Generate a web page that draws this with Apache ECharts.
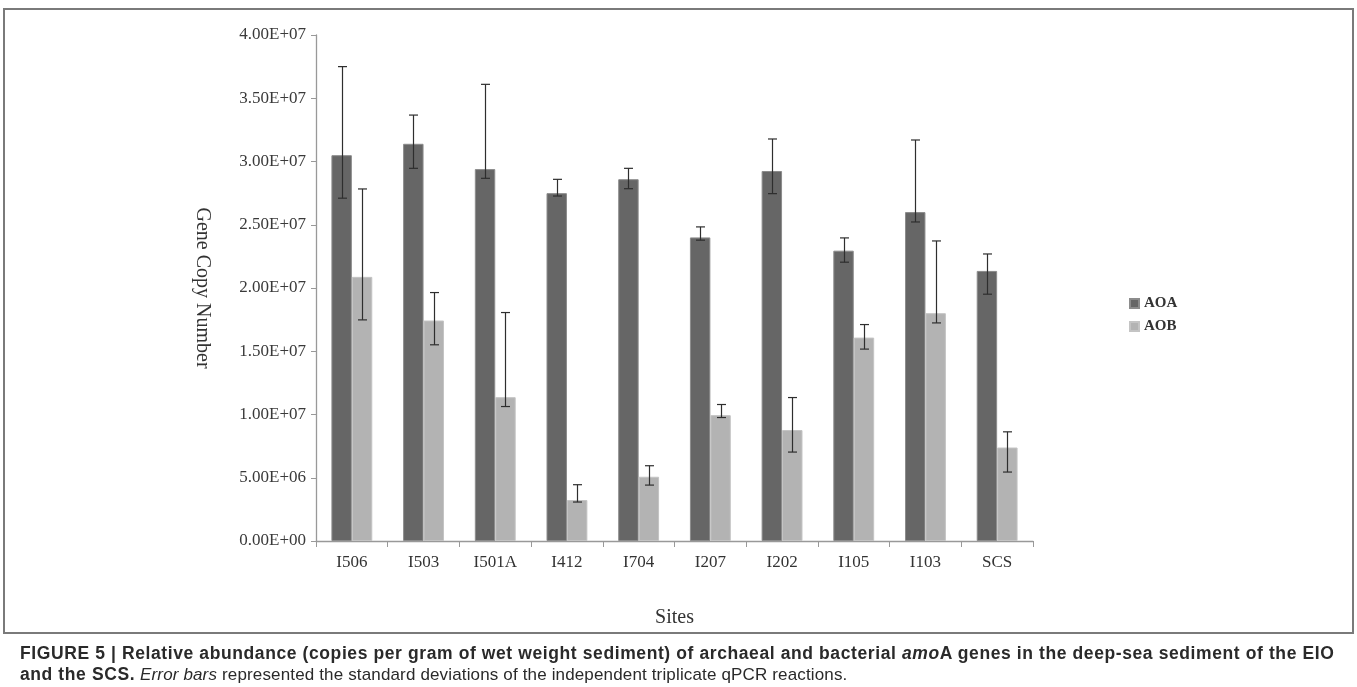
<!DOCTYPE html>
<html>
<head>
<meta charset="utf-8">
<script src="https://cdn.jsdelivr.net/npm/echarts@6/dist/echarts.min.js"></script>
<style>
  html, body { margin:0; padding:0; background:#fff; }
  #wrap { position:relative; width:1357px; height:687px; overflow:hidden; }
  #chart { position:absolute; left:0; top:0; width:1357px; height:687px; }
  #box { position:absolute; left:3px; top:8px; width:1347px; height:622px; border:2px solid #7a7a7a; pointer-events:none; }
  #caption { position:absolute; left:20px; top:643px; width:1335px; font-family:"Liberation Sans", Arial, sans-serif; font-size:17px; line-height:20px; color:#2a2a2a; white-space:nowrap; letter-spacing:0.15px; }
  #caption b { font-weight:bold; font-size:17.5px; letter-spacing:0.6px; }
</style>
</head>
<body>
<div id="wrap">
  <div id="chart"></div>
  <div id="box"></div>
  <div id="caption">
    <div><b>FIGURE 5 | Relative abundance (copies per gram of wet weight sediment) of archaeal and bacterial <i>amo</i>A genes in the deep-sea sediment of the EIO</b></div>
    <div><b>and the SCS.</b> <i>Error bars</i> represented the standard deviations of the independent triplicate qPCR reactions.</div>
  </div>
</div>
<script>
var sites   = ['I506','I503','I501A','I412','I704','I207','I202','I105','I103','SCS'];
var aoa     = [3.05e7, 3.14e7, 2.94e7, 2.75e7, 2.86e7, 2.40e7, 2.925e7, 2.295e7, 2.60e7, 2.135e7];
var aoaLow  = [2.71e7, 2.946e7, 2.867e7, 2.727e7, 2.785e7, 2.378e7, 2.746e7, 2.204e7, 2.522e7, 1.951e7];
var aoaHigh = [3.75e7, 3.367e7, 3.61e7, 2.859e7, 2.946e7, 2.483e7, 3.178e7, 2.396e7, 3.17e7, 2.269e7];
var aob     = [2.088e7, 1.743e7, 1.137e7, 0.324e7, 0.508e7, 0.995e7, 0.877e7, 1.608e7, 1.801e7, 0.739e7];
var aobLow  = [1.748e7, 1.551e7, 1.063e7, 0.308e7, 0.442e7, 0.976e7, 0.703e7, 1.517e7, 1.724e7, 0.545e7];
var aobHigh = [2.783e7, 1.964e7, 1.806e7, 0.445e7, 0.595e7, 1.079e7, 1.134e7, 1.711e7, 2.372e7, 0.863e7];
var yMin = 0, yMax = 4e7, yStep = 5e6;

var CAT_GAP = 0.43;
var serif = '"Liberation Serif", "Times New Roman", serif';

function sci(v) {
  if (v === 0) return '0.00E+00';
  var e = Math.floor(Math.log10(Math.abs(v)) + 1e-9);
  var m = v / Math.pow(10, e);
  var es = (e < 10 ? '0' : '') + e;
  return m.toFixed(2) + 'E+' + es;
}

function errData(lo, hi) {
  return lo.map(function (l, i) { return [i, l, hi[i]]; });
}

function errSeries(name, lo, hi, sign) {
  return {
    type: 'custom',
    name: name + ' err',
    data: errData(lo, hi),
    encode: { x: 0, y: [1, 2] },
    z: 10,
    silent: true,
    renderItem: function (params, api) {
      var idx = api.value(0);
      var pLo = api.coord([idx, api.value(1)]);
      var pHi = api.coord([idx, api.value(2)]);
      var band = api.size([1, 0])[0];
      var bw = band * (1 - CAT_GAP) / 2;
      var x = Math.round(pLo[0] + sign * bw / 2) + 0.5;
      var cap = 4.5;
      var st = { stroke: '#2e2e2e', lineWidth: 1.2 };
      return {
        type: 'group',
        children: [
          { type: 'line', shape: { x1: x, y1: pHi[1], x2: x, y2: pLo[1] }, style: st },
          { type: 'line', shape: { x1: x - cap, y1: pHi[1], x2: x + cap, y2: pHi[1] }, style: st },
          { type: 'line', shape: { x1: x - cap, y1: pLo[1], x2: x + cap, y2: pLo[1] }, style: st }
        ]
      };
    }
  };
}

var chart = echarts.init(document.getElementById('chart'), null, { renderer: 'canvas' });
chart.setOption({
  animation: false,
  backgroundColor: 'transparent',
  grid: { left: 316, right: 324, top: 35, bottom: 146, containLabel: false },
  legend: {
    orient: 'vertical',
    left: 1124, top: 291,
    itemWidth: 9, itemHeight: 9, itemGap: 8,
    icon: 'rect',
    data: ['AOA', 'AOB'],
    textStyle: { fontFamily: serif, fontSize: 15, fontWeight: 'bold', color: '#333', padding: [0, 0, 0, 0] }
  },
  xAxis: {
    type: 'category',
    data: sites,
    name: 'Sites',
    nameLocation: 'middle',
    nameGap: 67,
    nameTextStyle: { fontFamily: serif, fontSize: 20, color: '#333' },
    axisLine: { lineStyle: { color: '#999', width: 1.3 } },
    axisTick: { show: true, length: 6, lineStyle: { color: '#999' } },
    axisLabel: { fontFamily: serif, fontSize: 17, color: '#333', margin: 13 }
  },
  yAxis: {
    type: 'value',
    min: yMin, max: yMax, interval: yStep,
    name: 'Gene Copy Number',
    nameLocation: 'middle',
    nameRotate: -90,
    nameGap: 104,
    nameTextStyle: { fontFamily: serif, fontSize: 20, color: '#333' },
    splitLine: { show: false },
    axisLine: { show: true, lineStyle: { color: '#999', width: 1.3 } },
    axisTick: { show: true, length: 5, lineStyle: { color: '#999' } },
    axisLabel: { fontFamily: serif, fontSize: 17, color: '#3a3a3a', margin: 10, formatter: sci }
  },
  series: [
    { type: 'bar', name: 'AOA', data: aoa, barGap: '0%', barCategoryGap: (CAT_GAP * 100) + '%',
      itemStyle: { color: '#666666', borderColor: '#8c8c8c', borderWidth: 1 } },
    { type: 'bar', name: 'AOB', data: aob, barGap: '0%', barCategoryGap: (CAT_GAP * 100) + '%',
      itemStyle: { color: '#b3b3b3', borderColor: '#c4c4c4', borderWidth: 1 } },
    errSeries('AOA', aoaLow, aoaHigh, -1),
    errSeries('AOB', aobLow, aobHigh, 1)
  ]
});
</script>
</body>
</html>
